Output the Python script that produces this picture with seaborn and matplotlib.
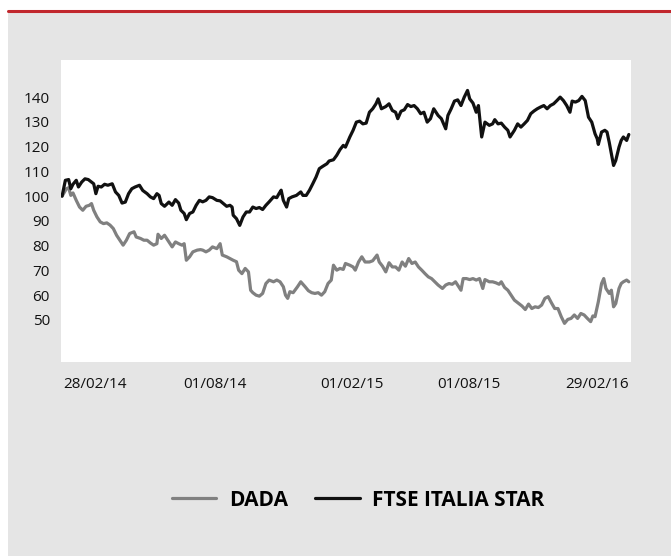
import pandas as pd
import matplotlib
matplotlib.use("Agg")
import matplotlib.pyplot as plt
from matplotlib.patches import Rectangle
from matplotlib.lines import Line2D
import seaborn as sns

# sedute (indice di seduta) e valori ribasati a 100
star_session = [0, 3, 6, 8, 10, 13, 15, 18, 21, 24, 27, 29, 31, 33, 36, 39, 42, 46, 49, 52,
                55, 58, 61, 64, 67, 71, 74, 78, 81, 84, 87, 89, 91, 94, 98, 101, 104, 107, 109, 112,
                114, 117, 120, 123, 126,
                129, 132, 135, 138, 142, 145, 148, 151, 154, 156, 157, 160, 163, 166, 169, 172, 175, 178, 181, 184,
                187, 190, 194, 197, 199, 201, 203, 206, 208, 211, 215, 219, 221, 224, 227, 230, 233, 236, 239, 243,
                245, 249, 252, 255, 258,
                260, 264, 267, 270, 273, 276, 279, 282, 285, 288, 290, 293, 297, 300, 303, 306, 308, 311, 314, 317,
                320, 323, 326, 329, 332, 335, 338, 341, 345, 348, 352, 354, 357, 360, 363, 366, 369, 372, 374, 377,
                380, 382, 385, 388,
                392, 395, 397, 400, 403, 406, 409, 411, 415, 418, 421, 424, 427, 430, 433, 436, 439, 442, 445, 448,
                451, 454, 457, 460, 463, 466, 468, 471, 474, 477, 480, 483, 486, 489, 491, 492, 495, 498, 500, 502,
                504, 506, 508, 511, 513, 515, 518, 520]
star_value = [100, 106.4, 106.7, 103, 104.8, 106.4, 103.7, 105.7, 107, 106.7, 105.7, 105, 101, 104, 103.7, 104.8, 104.4, 105, 101.7, 100.3,
              97.2, 97.6, 101, 103, 103.7, 104.4, 102.3, 101, 99.7, 99, 101, 100.3, 97, 95.9, 97.6, 96.3, 98.6, 97.2, 94.3, 93,
              90.5, 93, 93.6, 96.3, 98.3,
              97.7, 98.3, 99.7, 99.4, 98.3, 98.1, 97, 95.9, 96.3, 95.6, 92.3, 90.9, 88.2, 91.6, 93.6, 93.6, 95.6, 95, 95.4, 94.6,
              96.3, 97.7, 99.7, 99.4, 101, 102.4, 98.3, 95.6, 99, 99.7, 100.3, 101.7, 100.3, 100.3, 102.4, 105, 107.7, 111.1, 112, 113.1,
              114.2, 114.7, 116.5, 118.8, 120.5,
              119.8, 123.9, 126.6, 129.9, 130.3, 129.2, 129.5, 133.9, 135.3, 137.3, 139.3, 135.3, 136.2, 137.3, 134.6, 133.9, 131.3, 134.3, 134.9, 137,
              136.2, 136.6, 135.3, 133.3, 133.9, 129.9, 131.3, 135.3, 132.6, 131.3, 127.2, 132.6, 135.3, 138.4, 138.9, 136.6, 140, 142.7, 139.3, 137.6,
              133.9, 136.6, 123.9, 129.9,
              128.6, 129.2, 130.9, 129.2, 129.5, 127.9, 126.6, 123.9, 126.6, 129.2, 127.9, 129.2, 130.6, 133.3, 134.4, 135.3, 136, 136.6, 135.3, 136.6,
              137.3, 138.6, 140, 138.6, 136.6, 133.9, 138.4, 138, 138.6, 140.3, 138.6, 131.9, 129.9, 125.2, 123.2, 120.9, 125.9, 126.6, 125.9, 121.8,
              117.2, 112.4, 114.4, 119.8, 122.5, 123.9, 122.5, 124.9]

dada_session = [0, 4, 6, 8, 10, 13, 16, 19, 22, 25, 27, 29, 32, 35, 38, 41, 44, 47, 50, 53,
                56, 59, 62, 66, 68, 72, 75, 78, 81, 84, 87, 88, 91, 94, 98, 101, 104, 107, 110, 112,
                114, 117, 120, 124, 127,
                129, 132, 135, 138, 142, 145, 147, 151, 154, 157, 160, 162, 165, 168, 171, 173, 175, 178, 181, 184,
                187, 190, 194, 197, 200, 203, 205, 207, 209, 212, 216, 219, 223, 226, 229, 232, 235, 238, 241, 244,
                247, 249, 252, 255, 258,
                260, 264, 267, 269, 272, 275, 278, 282, 285, 289, 291, 294, 297, 300, 303, 306, 309, 312, 315, 318,
                321, 324, 327, 330, 333, 336, 339, 342, 345, 349, 352, 355, 358, 361, 364, 366, 368, 371, 374, 377,
                380, 383, 386, 388,
                392, 395, 398, 401, 403, 406, 409, 412, 415, 419, 422, 425, 428, 431, 434, 437, 440, 443, 446, 449,
                452, 455, 458, 461, 464, 467, 470, 473, 476, 479, 482, 485, 487, 489, 492, 495, 497, 499, 502, 504,
                506, 508, 511, 513, 515, 518, 520]
dada_value = [100, 103, 103.4, 100.3, 101.3, 98.3, 95.6, 94.3, 95.9, 96.3, 97, 94.3, 91.6, 89.6, 88.9, 89.2, 88.3, 86.9, 84.2, 82.2,
              80.2, 82.2, 84.9, 85.6, 83.5, 82.9, 82.2, 82.2, 81.1, 80.2, 80.8, 84.6, 82.9, 84.2, 81.5, 79.5, 81.5, 80.8, 80.2, 80.8,
              74.1, 75.5, 77.5, 78.2, 78.4,
              78.2, 77.5, 78.2, 79.5, 78.8, 80.8, 76.2, 75.5, 74.8, 74.1, 73.5, 70.1, 68.7, 70.8, 69.4, 62, 61, 60, 59.6, 60.7,
              64.7, 66.1, 65.4, 66.1, 65.4, 63.4, 60, 58.7, 61.4, 61, 63.4, 65.4, 63.4, 61.8, 61, 60.7, 61, 60, 61.4, 64.7,
              66.1, 72.1, 70.1, 70.8, 70.4,
              72.8, 72.1, 71.4, 70.1, 73.4, 75.5, 73.4, 73.4, 73.9, 76.2, 73.4, 71.7, 69.4, 73.1, 71.4, 71.4, 70.1, 73.4, 71.7, 74.8,
              72.8, 73.4, 71.4, 70.1, 68.7, 67.4, 66.7, 65.4, 64.1, 62.7, 64.1, 64.7, 64.4, 65.4, 63.4, 62, 66.7, 66.7, 66.3, 66.7,
              66.1, 66.7, 62.7, 66.3,
              65.4, 65.4, 65, 64.4, 65.4, 63.1, 62, 60, 58, 56.6, 55.6, 54.2, 56.4, 54.6, 55.3, 55, 56, 58.7, 59.4, 56.9,
              54.6, 54.6, 51.3, 48.6, 50.2, 50.6, 52, 50.6, 52.6, 52, 50.6, 49.3, 51.6, 51.3, 57.3, 64.7, 66.7, 62.7, 60.7, 62,
              55.3, 56.6, 62.7, 64.7, 65.4, 66.1, 65.4]

series_names = ["DADA", "FTSE ITALIA STAR"]
series_colors = ["#808080", "#111111"]

tick_labels = ["28/02/14", "01/08/14", "01/02/15", "01/08/15", "29/02/16"]
tick_sessions = [30, 140, 266, 373, 491]
y_ticks = [50, 60, 70, 80, 90, 100, 110, 120, 130, 140]

df = pd.concat([
    pd.DataFrame({"seduta": dada_session, "valore": dada_value, "serie": series_names[0]}),
    pd.DataFrame({"seduta": star_session, "valore": star_value, "serie": series_names[1]}),
], ignore_index=True)

sns.set_style("white")
plt.rcParams["font.family"] = ["Open Sans", "DejaVu Sans"]

fig = plt.figure(figsize=(6.71, 5.56), dpi=100, facecolor="white")
# fondo grigio e filetto rosso in alto
fig.patches.append(Rectangle((8 / 671, 0), 1 - 8 / 671, 1 - 12 / 556,
                             transform=fig.transFigure, facecolor="#e5e5e5",
                             edgecolor="none", zorder=-10))
fig.lines.append(Line2D([8 / 671, 1], [1 - 10.5 / 556, 1 - 10.5 / 556],
                        transform=fig.transFigure, color="#c1272d", linewidth=2.2,
                        zorder=-5))

ax = fig.add_axes([61 / 671, 1 - 362 / 556, 570 / 671, 302 / 556])
ax.set_zorder(5)
ax.set_facecolor("white")

palette = dict(zip(series_names, series_colors))
sns.lineplot(data=df, x="seduta", y="valore", hue="serie", palette=palette,
             hue_order=series_names, linewidth=2.3, ax=ax, legend=False)

ax.set_xlim(-1, 522)
ax.set_ylim(33, 155)
ax.set_yticks(y_ticks)
ax.set_yticklabels([str(v) for v in y_ticks], fontsize=11, color="#111111")
ax.set_xticks(tick_sessions)
ax.set_xticklabels(tick_labels, fontsize=11, color="#111111")
ax.tick_params(axis="both", length=0)
ax.tick_params(axis="y", pad=8)
ax.tick_params(axis="x", pad=11)
ax.set_xlabel("")
ax.set_ylabel("")
for s in ax.spines.values():
    s.set_visible(False)
ax.grid(False)

handles = [Line2D([], [], color=c, linewidth=2.3) for c in series_colors]
leg = fig.legend(handles, series_names, loc="center", bbox_to_anchor=(358 / 671, 1 - 500 / 556),
                 ncol=2, frameon=False, handlelength=2.15, handletextpad=0.6,
                 columnspacing=1.3, prop={"family": ["Open Sans", "DejaVu Sans"],
                                          "weight": "bold", "size": 15})
for t in leg.get_texts():
    t.set_color("#000000")

fig.savefig("out.png", dpi=100, facecolor=fig.get_facecolor())
